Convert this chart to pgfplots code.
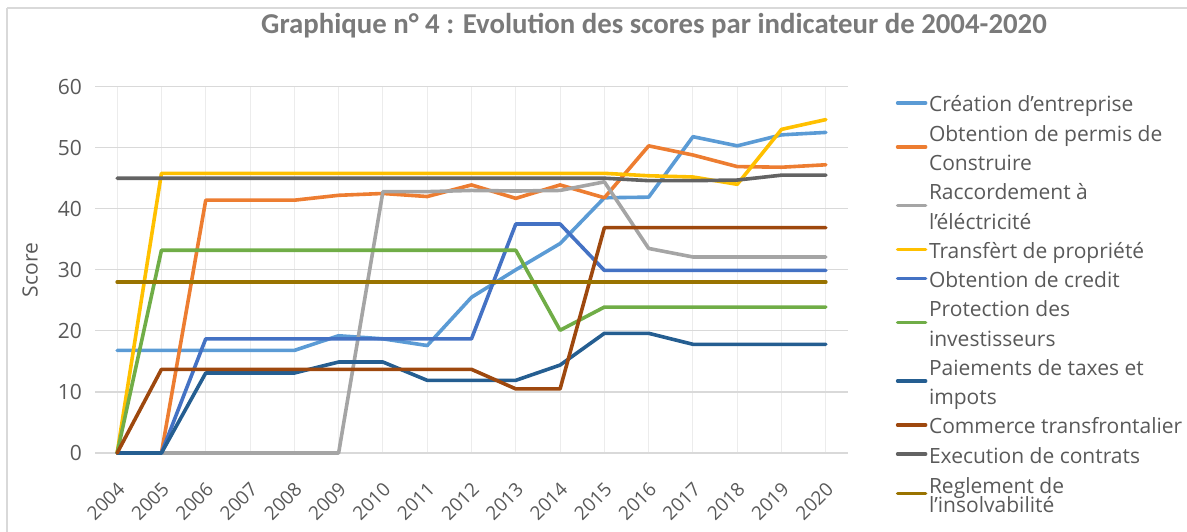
\documentclass[border=0pt]{standalone}
\usepackage{pgfplots}
\pgfplotsset{compat=1.18}
\usepackage{pgfplotstable}
\usepackage{fontspec}
\setmainfont{Open Sans}
\newfontfamily\titlefont{Carlito}
\definecolor{txt}{HTML}{595959}
\definecolor{ttl}{HTML}{7A7A7A}
\definecolor{gridc}{HTML}{D9D9D9}
\definecolor{mgridc}{HTML}{ECECEC}
\definecolor{cA}{HTML}{5B9BD5}
\definecolor{cB}{HTML}{ED7D31}
\definecolor{cC}{HTML}{A5A5A5}
\definecolor{cD}{HTML}{FFC000}
\definecolor{cE}{HTML}{4472C4}
\definecolor{cF}{HTML}{70AD47}
\definecolor{cG}{HTML}{255E91}
\definecolor{cH}{HTML}{9E480E}
\definecolor{cI}{HTML}{636363}
\definecolor{cJ}{HTML}{997300}
\newcommand\st{\rule[-4.3pt]{0pt}{14.7pt}}
\pgfplotstableread{
year cre perm racc trans cred prot paie comm exec regl
2004 16.8 0 0 0 0 0 0 0 45 28
2005 16.8 0 0 45.8 0 33.2 0 13.7 45 28
2006 16.8 41.4 0 45.8 18.7 33.2 13.1 13.7 45 28
2007 16.8 41.4 0 45.8 18.7 33.2 13.1 13.7 45 28
2008 16.8 41.4 0 45.8 18.7 33.2 13.1 13.7 45 28
2009 19.2 42.2 0 45.8 18.7 33.2 14.9 13.7 45 28
2010 18.7 42.5 42.8 45.8 18.7 33.2 14.9 13.7 45 28
2011 17.6 42.0 42.8 45.8 18.7 33.2 11.9 13.7 45 28
2012 25.5 43.9 43.0 45.8 18.7 33.2 11.9 13.7 45 28
2013 30.0 41.7 42.9 45.8 37.5 33.2 11.9 10.5 45 28
2014 34.3 43.9 43.0 45.8 37.5 20.1 14.4 10.5 45 28
2015 41.8 41.8 44.4 45.8 29.9 23.9 19.6 36.9 45 28
2016 41.9 50.3 33.5 45.4 29.9 23.9 19.6 36.9 44.6 28
2017 51.8 48.8 32.1 45.2 29.9 23.9 17.8 36.9 44.6 28
2018 50.3 46.9 32.1 44.0 29.9 23.9 17.8 36.9 44.7 28
2019 52.1 46.8 32.1 53.0 29.9 23.9 17.8 36.9 45.5 28
2020 52.5 47.2 32.1 54.6 29.9 23.9 17.8 36.9 45.5 28
}\data
\begin{document}
\begin{tikzpicture}
\path[use as bounding box] (0,0) rectangle (593.5pt,-265.5pt);
\draw[gridc, line width=0.6pt] (3.5pt,-4pt) -- (600pt,-4pt);
\draw[gridc, line width=0.6pt] (3.5pt,-4pt) -- (3.5pt,-270pt);
\node[font=\titlefont\bfseries\fontsize{14.4}{16}\selectfont, text=ttl] at (327pt,-13pt) {Graphique n° 4 : Evolution des scores par indicateur de 2004-2020};
\node[rotate=90, font=\fontsize{10.5}{12}\selectfont, text=txt] at (15pt,-135pt) {Score};
\begin{axis}[
  at={(47.5pt,-226.5pt)}, anchor=south west,
  scale only axis, width=376.5pt, height=183.2pt,
  xmin=2003.5, xmax=2020.5, ymin=0, ymax=60,
  xtick={2004,...,2020}, ytick={0,10,...,60},
  minor x tick num=4,
  xmajorgrids, xminorgrids, ymajorgrids,
  major x grid style={mgridc, line width=0.5pt},
  minor x grid style={mgridc, line width=0.5pt},
  major y grid style={gridc, line width=0.6pt},
  axis line style={draw=none},
  major tick length=0pt, minor tick length=0pt,
  tick style={draw=none},
  /pgf/number format/assume math mode=true,
  xticklabel={\pgfmathprintnumber[/pgf/number format/1000 sep={}]{\tick}},
  yticklabel style={font=\fontsize{10.5}{12}\selectfont, text=txt, xshift=-3pt},
  xticklabel style={font=\fontsize{9.5}{11}\selectfont, text=txt, xshift=4.5pt, yshift=-14pt, rotate=45, anchor=east},
  legend style={at={(1.055,1.0)}, anchor=north west, draw=none, fill=none,
    font=\fontsize{10.5}{14.7}\selectfont, text=txt,
    cells={anchor=west, align=left},
    nodes={inner ysep=0pt, inner xsep=0.8pt},
    row sep=2.7pt},
  legend image code/.code={\draw[#1, line width=1.8pt] (0pt,0pt) -- (14pt,0pt);},
  every axis plot/.append style={line width=1.8pt, line join=round, line cap=round},
  clip=false,
]
\addplot[cA] table[x=year,y=cre] {\data};
\addlegendentry{\st Création d'entreprise}
\addplot[cB] table[x=year,y=perm] {\data};
\addlegendentry{\st Obtention de permis de\\\st Construire}
\addplot[cC] table[x=year,y=racc] {\data};
\addlegendentry{\st Raccordement à\\\st l'éléctricité}
\addplot[cD] table[x=year,y=trans] {\data};
\addlegendentry{\st Transfèrt de propriété}
\addplot[cE] table[x=year,y=cred] {\data};
\addlegendentry{\st Obtention de credit}
\addplot[cF] table[x=year,y=prot] {\data};
\addlegendentry{\st Protection des\\\st investisseurs}
\addplot[cG] table[x=year,y=paie] {\data};
\addlegendentry{\st Paiements de taxes et\\\st impots}
\addplot[cH] table[x=year,y=comm] {\data};
\addlegendentry{\st Commerce transfrontalier}
\addplot[cI] table[x=year,y=exec] {\data};
\addlegendentry{\st Execution de contrats}
\addplot[cJ] table[x=year,y=regl] {\data};
\addlegendentry{\rule{0pt}{11pt}Reglement de\\[-5pt]l'insolvabilité}
\end{axis}
\end{tikzpicture}
\end{document}
